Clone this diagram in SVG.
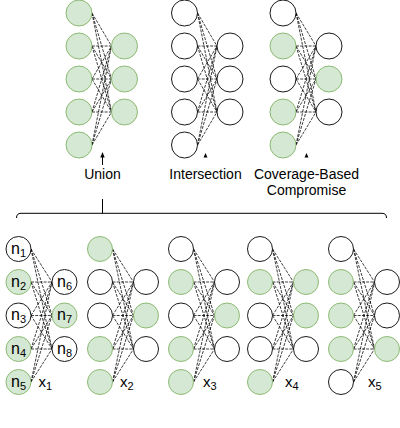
<svg xmlns="http://www.w3.org/2000/svg" width="400" height="428" viewBox="0 0 400 428">
<style>
.g{fill:#d5e8d4;stroke:#82b366;stroke-width:0.9}
.w{fill:#ffffff;stroke:#000000;stroke-width:0.9}
.e{fill:none;stroke:#000000;stroke-width:0.75;stroke-dasharray:3 1.2}
.s{fill:none;stroke:#000000;stroke-width:1}
.a{fill:#000000;stroke:none}
text{font-family:"Liberation Sans",Arial,Helvetica,sans-serif;fill:#000000}
.lb{font-size:14px;text-anchor:middle}
.nl{font-size:16px;text-anchor:middle}
.xl{font-size:15px}
.sb{font-size:11px}
</style>
<rect width="400" height="428" fill="#ffffff"/>
<g id="connectors">
<path class="e" d="M92 13L111.5 46M92 13L111.5 79M92 13L111.5 112M92 46L111.5 46M92 46L111.5 79M92 46L111.5 112M92 79L111.5 46M92 79L111.5 79M92 79L111.5 112M92 112L111.5 46M92 112L111.5 79M92 112L111.5 112M92 145L111.5 46M92 145L111.5 79M92 145L111.5 112"/>
<path class="e" d="M197.5 13L217 46M197.5 13L217 79M197.5 13L217 112M197.5 46L217 46M197.5 46L217 79M197.5 46L217 112M197.5 79L217 46M197.5 79L217 79M197.5 79L217 112M197.5 112L217 46M197.5 112L217 79M197.5 112L217 112M197.5 145L217 46M197.5 145L217 79M197.5 145L217 112"/>
<path class="e" d="M296 13L316 46M296 13L316 79M296 13L316 112M296 46L316 46M296 46L316 79M296 46L316 112M296 79L316 46M296 79L316 79M296 79L316 112M296 112L316 46M296 112L316 79M296 112L316 112M296 145L316 46M296 145L316 79M296 145L316 112"/>
<path class="e" d="M31 249L52 282M31 249L52 315.5M31 249L52 349M31 282L52 282M31 282L52 315.5M31 282L52 349M31 315.5L52 282M31 315.5L52 315.5M31 315.5L52 349M31 349L52 282M31 349L52 315.5M31 349L52 349M31 382L52 282M31 382L52 315.5M31 382L52 349"/>
<path class="e" d="M112.5 249L133.5 282M112.5 249L133.5 315.5M112.5 249L133.5 349M112.5 282L133.5 282M112.5 282L133.5 315.5M112.5 282L133.5 349M112.5 315.5L133.5 282M112.5 315.5L133.5 315.5M112.5 315.5L133.5 349M112.5 349L133.5 282M112.5 349L133.5 315.5M112.5 349L133.5 349M112.5 382L133.5 282M112.5 382L133.5 315.5M112.5 382L133.5 349"/>
<path class="e" d="M193.5 249L214.5 282M193.5 249L214.5 315.5M193.5 249L214.5 349M193.5 282L214.5 282M193.5 282L214.5 315.5M193.5 282L214.5 349M193.5 315.5L214.5 282M193.5 315.5L214.5 315.5M193.5 315.5L214.5 349M193.5 349L214.5 282M193.5 349L214.5 315.5M193.5 349L214.5 349M193.5 382L214.5 282M193.5 382L214.5 315.5M193.5 382L214.5 349"/>
<path class="e" d="M272.5 249L293.5 282M272.5 249L293.5 315.5M272.5 249L293.5 349M272.5 282L293.5 282M272.5 282L293.5 315.5M272.5 282L293.5 349M272.5 315.5L293.5 282M272.5 315.5L293.5 315.5M272.5 315.5L293.5 349M272.5 349L293.5 282M272.5 349L293.5 315.5M272.5 349L293.5 349M272.5 382L293.5 282M272.5 382L293.5 315.5M272.5 382L293.5 349"/>
<path class="e" d="M353.5 249L374.5 282M353.5 249L374.5 315.5M353.5 249L374.5 349M353.5 282L374.5 282M353.5 282L374.5 315.5M353.5 282L374.5 349M353.5 315.5L374.5 282M353.5 315.5L374.5 315.5M353.5 315.5L374.5 349M353.5 349L374.5 282M353.5 349L374.5 315.5M353.5 349L374.5 349M353.5 382L374.5 282M353.5 382L374.5 315.5M353.5 382L374.5 349"/>
<path class="s" d="M16.5 218Q16.5 213.3 21 213.3H382Q386.5 213.3 386.5 218"/>
<path class="s" d="M102.5 213.3V199M102.5 165V156"/>
<polygon class="a" points="102.5,152 100.3,157.5 104.7,157.5"/>
<polygon class="a" points="205.5,153 203.5,157.5 207.5,157.5"/>
<polygon class="a" points="306.5,153 304.5,157.5 308.5,157.5"/>
</g>
<g id="union">
<circle class="g" cx="79" cy="13" r="13"/><circle class="g" cx="79" cy="46" r="13"/><circle class="g" cx="79" cy="79" r="13"/><circle class="g" cx="79" cy="112" r="13"/><circle class="g" cx="79" cy="145" r="13"/>
<circle class="g" cx="124.5" cy="46" r="13"/><circle class="g" cx="124.5" cy="79" r="13"/><circle class="g" cx="124.5" cy="112" r="13"/>
</g>
<g id="intersection">
<circle class="w" cx="184.5" cy="13" r="13"/><circle class="w" cx="184.5" cy="46" r="13"/><circle class="w" cx="184.5" cy="79" r="13"/><circle class="w" cx="184.5" cy="112" r="13"/><circle class="w" cx="184.5" cy="145" r="13"/>
<circle class="w" cx="230" cy="46" r="13"/><circle class="w" cx="230" cy="79" r="13"/><circle class="w" cx="230" cy="112" r="13"/>
</g>
<g id="coverage">
<circle class="w" cx="283" cy="13" r="13"/><circle class="g" cx="283" cy="46" r="13"/><circle class="w" cx="283" cy="79" r="13"/><circle class="g" cx="283" cy="112" r="13"/><circle class="g" cx="283" cy="145" r="13"/>
<circle class="w" cx="329" cy="46" r="13"/><circle class="g" cx="329" cy="79" r="13"/><circle class="w" cx="329" cy="112" r="13"/>
</g>
<g id="labels-top">
<text class="lb" x="102.5" y="178.5">Union</text>
<text class="lb" x="205.5" y="178.5">Intersection</text>
<text class="lb" x="306.5" y="178.5">Coverage-Based</text>
<text class="lb" x="306.5" y="194.5">Compromise</text>
</g>
<g id="x1">
<g id="x1-n1"><circle class="w" cx="18.5" cy="249" r="12.5"/><text class="nl" x="18.5" y="253.5">n<tspan class="sb" dy="3">1</tspan></text></g>
<g id="x1-n2"><circle class="g" cx="18.5" cy="282" r="12.5"/><text class="nl" x="18.5" y="286.5">n<tspan class="sb" dy="3">2</tspan></text></g>
<g id="x1-n3"><circle class="w" cx="18.5" cy="315.5" r="12.5"/><text class="nl" x="18.5" y="320">n<tspan class="sb" dy="3">3</tspan></text></g>
<g id="x1-n4"><circle class="g" cx="18.5" cy="349" r="12.5"/><text class="nl" x="18.5" y="353.5">n<tspan class="sb" dy="3">4</tspan></text></g>
<g id="x1-n5"><circle class="g" cx="18.5" cy="382" r="12.5"/><text class="nl" x="18.5" y="386.5">n<tspan class="sb" dy="3">5</tspan></text></g>
<g id="x1-n6"><circle class="w" cx="64.5" cy="282" r="12.5"/><text class="nl" x="64.5" y="286.5">n<tspan class="sb" dy="3">6</tspan></text></g>
<g id="x1-n7"><circle class="g" cx="64.5" cy="315.5" r="12.5"/><text class="nl" x="64.5" y="320">n<tspan class="sb" dy="3">7</tspan></text></g>
<g id="x1-n8"><circle class="w" cx="64.5" cy="349" r="12.5"/><text class="nl" x="64.5" y="353.5">n<tspan class="sb" dy="3">8</tspan></text></g>
<text class="xl" x="38.5" y="387">x<tspan class="sb" dy="3">1</tspan></text>
</g>
<g id="x2">
<circle class="g" cx="100" cy="249" r="12.5"/><circle class="w" cx="100" cy="282" r="12.5"/><circle class="w" cx="100" cy="315.5" r="12.5"/><circle class="g" cx="100" cy="349" r="12.5"/><circle class="g" cx="100" cy="382" r="12.5"/>
<circle class="w" cx="146" cy="282" r="12.5"/><circle class="g" cx="146" cy="315.5" r="12.5"/><circle class="w" cx="146" cy="349" r="12.5"/>
<text class="xl" x="120" y="387">x<tspan class="sb" dy="3">2</tspan></text>
</g>
<g id="x3">
<circle class="w" cx="181" cy="249" r="12.5"/><circle class="g" cx="181" cy="282" r="12.5"/><circle class="w" cx="181" cy="315.5" r="12.5"/><circle class="g" cx="181" cy="349" r="12.5"/><circle class="g" cx="181" cy="382" r="12.5"/>
<circle class="w" cx="227" cy="282" r="12.5"/><circle class="g" cx="227" cy="315.5" r="12.5"/><circle class="w" cx="227" cy="349" r="12.5"/>
<text class="xl" x="203" y="387">x<tspan class="sb" dy="3">3</tspan></text>
</g>
<g id="x4">
<circle class="w" cx="260" cy="249" r="12.5"/><circle class="g" cx="260" cy="282" r="12.5"/><circle class="w" cx="260" cy="315.5" r="12.5"/><circle class="w" cx="260" cy="349" r="12.5"/><circle class="g" cx="260" cy="382" r="12.5"/>
<circle class="g" cx="306" cy="282" r="12.5"/><circle class="g" cx="306" cy="315.5" r="12.5"/><circle class="w" cx="306" cy="349" r="12.5"/>
<text class="xl" x="285" y="387">x<tspan class="sb" dy="3">4</tspan></text>
</g>
<g id="x5">
<circle class="w" cx="341" cy="249" r="12.5"/><circle class="g" cx="341" cy="282" r="12.5"/><circle class="g" cx="341" cy="315.5" r="12.5"/><circle class="g" cx="341" cy="349" r="12.5"/><circle class="w" cx="341" cy="382" r="12.5"/>
<circle class="w" cx="387" cy="282" r="12.5"/><circle class="w" cx="387" cy="315.5" r="12.5"/><circle class="g" cx="387" cy="349" r="12.5"/>
<text class="xl" x="368" y="387">x<tspan class="sb" dy="3">5</tspan></text>
</g>
</svg>
